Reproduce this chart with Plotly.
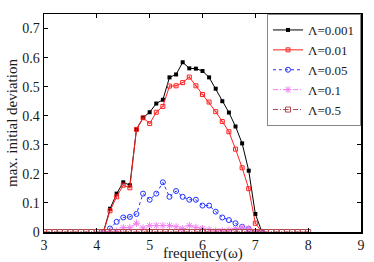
import plotly.graph_objects as go

# frequency grid for the four nonzero series (step 0.125)
freq_a = [4.125, 4.25, 4.375, 4.5, 4.625, 4.75, 4.875, 5.0, 5.125, 5.25, 5.375,
          5.5, 5.625, 5.75, 5.875, 6.0, 6.125, 6.25, 6.375, 6.5, 6.625, 6.75,
          6.875, 7.0, 7.125]

dev_0001 = [0.0, 0.080, 0.132, 0.171, 0.161, 0.353, 0.393, 0.412, 0.442, 0.455,
            0.532, 0.542, 0.584, 0.563, 0.562, 0.554, 0.532, 0.493, 0.450, 0.411,
            0.363, 0.305, 0.211, 0.062, 0.0]
dev_001 = [0.0, 0.073, 0.121, 0.161, 0.152, 0.353, 0.393, 0.373, 0.412, 0.432,
           0.502, 0.503, 0.514, 0.533, 0.503, 0.473, 0.447, 0.414, 0.380, 0.345,
           0.285, 0.221, 0.149, 0.030, 0.0]
dev_005 = [0.0, 0.012, 0.035, 0.050, 0.052, 0.062, 0.132, 0.111, 0.132, 0.171,
           0.121, 0.141, 0.121, 0.111, 0.111, 0.091, 0.091, 0.070, 0.050, 0.041,
           0.030, 0.018, 0.010, 0.0, 0.0]
dev_01 = [0.0, 0.0, 0.003, 0.015, 0.015, 0.030, 0.014, 0.022, 0.022, 0.022,
          0.022, 0.018, 0.012, 0.022, 0.016, 0.012, 0.008, 0.004, 0.004, 0.006,
          0.012, 0.016, 0.012, 0.0, 0.0]

# frequency grid for the flat series (step 0.1)
freq_b = [3.0, 3.1, 3.2, 3.3, 3.4, 3.5, 3.6, 3.7, 3.8, 3.9, 4.0, 4.1, 4.2, 4.3,
          4.4, 4.5, 4.6, 4.7, 4.8, 4.9, 5.0, 5.1, 5.2, 5.3, 5.4, 5.5, 5.6, 5.7,
          5.8, 5.9, 6.0, 6.1, 6.2, 6.3, 6.4, 6.5, 6.6, 6.7, 6.8, 6.9, 7.0, 7.1,
          7.2, 7.3, 7.4, 7.5, 7.6, 7.7, 7.8, 7.9, 8.0]
dev_05 = [0.0, 0.0, 0.0, 0.0, 0.0, 0.0, 0.0, 0.0, 0.0, 0.0, 0.0, 0.0, 0.0, 0.0,
          0.0, 0.0, 0.0, 0.0, 0.0, 0.0, 0.0, 0.0, 0.0, 0.0, 0.0, 0.0, 0.0, 0.0,
          0.0, 0.0, 0.0, 0.0, 0.0, 0.0, 0.0, 0.0, 0.0, 0.0, 0.0, 0.0, 0.0, 0.0,
          0.0, 0.0, 0.0, 0.0, 0.0, 0.0, 0.0, 0.0, 0.0]

x_ticks = [3, 4, 5, 6, 7, 8, 9]
y_ticks = [0, 0.1, 0.2, 0.3, 0.4, 0.5, 0.6, 0.7]
y_tick_text = ["0", "0.1", "0.2", "0.3", "0.4", "0.5", "0.6", "0.7"]

FONT = "Liberation Serif"
TXT = "#1a1a1a"

fig = go.Figure()
fig.add_trace(go.Scatter(x=freq_a, y=dev_0001, name="Λ=0.001", mode="lines+markers",
                         line=dict(color="black", width=1),
                         marker=dict(symbol="square", size=4, color="black")))
fig.add_trace(go.Scatter(x=freq_a, y=dev_001, name="Λ=0.01", mode="lines+markers",
                         line=dict(color="#ff2020", width=1),
                         marker=dict(symbol="square-open-dot", size=4, color="#ff2020",
                                     line=dict(width=1))))
fig.add_trace(go.Scatter(x=freq_a, y=dev_005, name="Λ=0.05", mode="lines+markers",
                         line=dict(color="#2030ff", width=1, dash="3px,3px"),
                         marker=dict(symbol="circle-open", size=5, color="#2030ff",
                                     line=dict(width=1))))
fig.add_trace(go.Scatter(x=freq_a, y=dev_01, name="Λ=0.1", mode="lines+markers",
                         line=dict(color="#f080f0", width=1, dash="5px,2px,1px,2px"),
                         marker=dict(symbol="asterisk-open", size=6, color="#f080f0",
                                     line=dict(width=1, color="#f080f0"))))
fig.add_trace(go.Scatter(x=freq_b, y=dev_05, name="Λ=0.5", mode="lines+markers",
                         line=dict(color="#b04850", width=1, dash="5px,2px,1px,2px"),
                         marker=dict(symbol="square-open-dot", size=5, color="#b04850",
                                     line=dict(width=1))))

axis_common = dict(showline=True, linecolor="black", linewidth=1.5, mirror="allticks",
                   ticks="inside", ticklen=4, tickcolor="black", showgrid=False,
                   zeroline=False, automargin=False,
                   tickfont=dict(family=FONT, size=14, color=TXT))

fig.update_xaxes(range=[3, 9], tickvals=x_ticks, **axis_common)
fig.update_yaxes(range=[0, 0.75], tickvals=y_ticks, ticktext=y_tick_text, **axis_common)

fig.add_annotation(text="frequency(ω)", xref="paper", yref="paper", x=0.5, y=0,
                   xanchor="center", yanchor="top", yshift=-12, showarrow=False,
                   borderpad=0, font=dict(family=FONT, size=15, color=TXT))
fig.add_annotation(text="max. initial deviation", xref="paper", yref="paper", x=0, y=0.5,
                   xanchor="center", yanchor="middle", xshift=-32, textangle=-90,
                   showarrow=False, font=dict(family=FONT, size=15, color=TXT))

fig.update_layout(
    width=374, height=262,
    margin=dict(l=44, r=13, t=14, b=30),
    paper_bgcolor="white", plot_bgcolor="white",
    font=dict(family=FONT, size=14, color=TXT),
    showlegend=True,
    legend=dict(x=1, y=1, xanchor="right", yanchor="top", bgcolor="white",
                bordercolor="#888", borderwidth=1, font=dict(family=FONT, size=13, color=TXT),
                tracegroupgap=0, itemwidth=30),
)

fig.write_html("out.html",
               config={"displayModeBar": False, "staticPlot": True},
               post_script="document.body.style.margin='0';document.body.style.overflow='hidden';")
